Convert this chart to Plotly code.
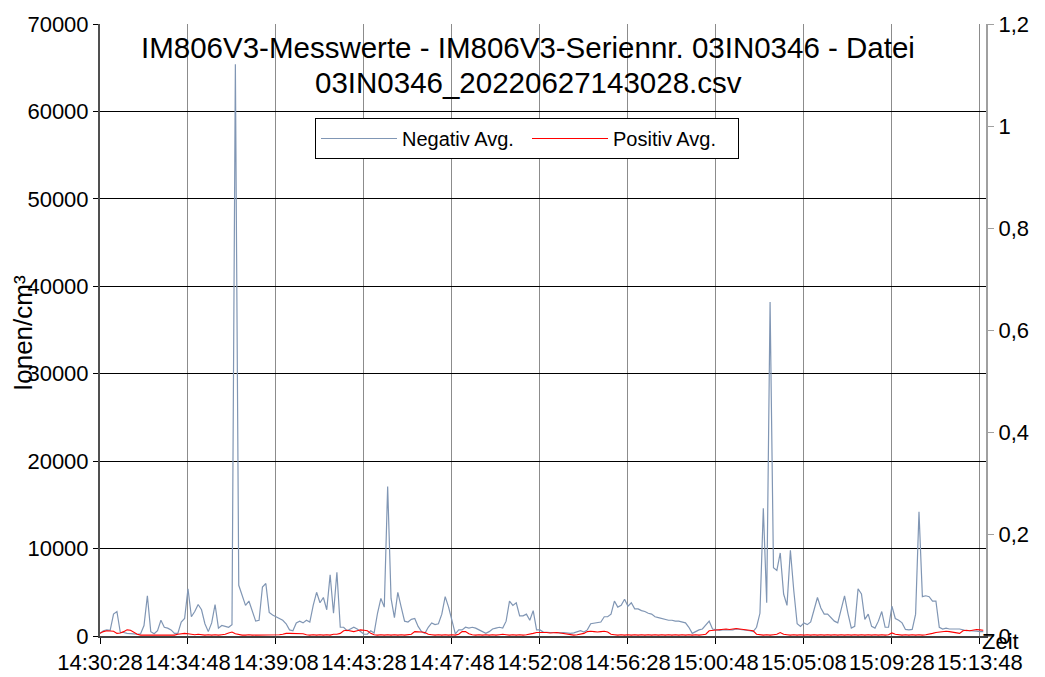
import pandas as pd
import plotly.graph_objects as go

# IM806V3 Messwerte, 10 s Raster ab 14:30:28
start = "2022-06-27 14:30:28"

negativ = [
    300, 600, 700, 650, 2500, 2800, 400, 400, 300, 300,
    250, 200, 250, 1200, 4600, 500, 250, 600, 1800, 1000,
    900, 700, 300, 300, 1600, 2000, 5400, 2200, 2800, 3600,
    3000, 1400, 500, 1500, 3600, 900, 1200, 1100, 1000, 1300,
    65400, 5800, 4500, 3500, 4000, 2900, 1700, 1800, 5600, 6000,
    2700, 2400, 2200, 2000, 1800, 1400, 700, 600, 1500, 1700,
    1500, 1800, 1600, 3500, 5000, 3800, 4400, 3000, 7000, 2600,
    7300, 1000, 1000, 600, 800, 1000, 800, 500, 200, 200,
    600, 350, 2600, 4300, 3300, 17100, 4300, 2100, 5000, 3300,
    1700, 1600, 1900, 2000, 1100, 500, 300, 1000, 1500, 1300,
    1400, 2500, 4500, 3300, 1800, 250, 700, 700, 1000, 900,
    1000, 900, 700, 450, 300, 500, 800, 900, 1000, 900,
    1700, 4000, 3500, 3800, 2300, 2300, 2500, 1800, 2900, 700,
    700, 450, 400, 400, 400, 350, 350, 400, 350, 300,
    350, 500, 600, 450, 700, 1400, 1450, 1500, 1600, 2200,
    2200, 2500, 4000, 3300, 3500, 4200, 3400, 3800, 3100, 3100,
    2900, 2800, 2600, 2500, 2200, 2100, 2000, 1900, 1800, 1800,
    1700, 1700, 1600, 1500, 1000, 300, 500, 700, 800, 1200,
    1700, 800, 700, 650, 700, 700, 650, 700, 800, 750,
    700, 700, 600, 500, 1000, 2600, 14600, 3800, 38200, 7800,
    7500, 9500, 4800, 3500, 9800, 5200, 1400, 1100, 1500, 1300,
    1600, 3000, 4400, 3200, 2500, 2500, 2100, 1700, 1500, 3000,
    4600, 2600, 900, 1100, 5400, 4800, 1900, 2500, 1100, 900,
    1700, 2800, 1000, 1000, 3400, 2000, 1800, 1500, 750, 700,
    750, 2500, 14200, 4500, 4600, 4500, 4000, 4000, 1000, 800,
    900, 800, 800, 800, 800, 700, 600, 600, 600, 550,
    500, 500,
]

positiv = [
    300, 500, 600, 600, 550, 300, 350, 500, 700, 650,
    400, 200, 100, 100, 150, 100, 100, 150, 100, 150,
    100, 150, 100, 200, 250, 300, 250, 200, 150, 200,
    150, 100, 150, 100, 150, 100, 150, 200, 350, 450,
    250, 150, 100, 100, 150, 100, 100, 150, 100, 150,
    100, 150, 100, 150, 200, 300, 300, 300, 300, 300,
    250, 150, 100, 150, 100, 150, 100, 150, 100, 200,
    200, 300, 600, 650, 600, 500, 600, 700, 650, 600,
    300, 150, 100, 150, 100, 150, 100, 150, 100, 150,
    100, 150, 200, 500, 500, 450, 400, 200, 150, 100,
    150, 100, 150, 100, 150, 100, 200, 500, 500, 250,
    150, 100, 150, 100, 150, 100, 150, 100, 150, 200,
    150, 100, 150, 100, 150, 100, 150, 200, 300, 400,
    400, 450, 400, 350, 400, 400, 350, 300, 200, 150,
    100, 150, 200, 300, 500, 550, 500, 450, 500, 550,
    450, 200, 150, 100, 150, 100, 150, 100, 150, 100,
    150, 100, 150, 100, 150, 100, 150, 100, 150, 100,
    150, 100, 150, 100, 150, 100, 150, 100, 150, 200,
    600, 650, 700, 750, 800, 800, 750, 800, 850, 800,
    750, 700, 650, 600, 200, 150, 100, 150, 100, 150,
    200, 400, 200, 150, 100, 150, 100, 150, 100, 150,
    100, 150, 100, 150, 100, 150, 100, 150, 100, 150,
    100, 150, 100, 150, 100, 150, 100, 150, 100, 150,
    100, 150, 100, 150, 350, 200, 150, 100, 150, 100,
    150, 100, 150, 100, 150, 200, 300, 400, 450, 500,
    550, 500, 450, 350, 300, 600, 650, 600, 700, 750,
    700, 650,
]

left_ticks = [0, 10000, 20000, 30000, 40000, 50000, 60000, 70000]
left_text = ["0", "10000", "20000", "30000", "40000", "50000", "60000", "70000"]
right_ticks = [0, 0.2, 0.4, 0.6, 0.8, 1.0, 1.2]
right_text = ["0", "0,2", "0,4", "0,6", "0,8", "1", "1,2"]

title_lines = ["IM806V3-Messwerte - IM806V3-Seriennr. 03IN0346 - Datei",
               "03IN0346_20220627143028.csv"]

zeit = pd.date_range(start, periods=len(negativ), freq="10s")

fig = go.Figure()
fig.add_trace(go.Scatter(x=zeit, y=negativ, mode="lines", name="Negativ Avg.",
                         line=dict(color="#8096b4", width=1.2)))
fig.add_trace(go.Scatter(x=zeit, y=positiv, mode="lines", name="Positiv Avg.",
                         line=dict(color="#ff0000", width=1.1)))
fig.add_trace(go.Scatter(x=[], y=[], yaxis="y2", showlegend=False, hoverinfo="skip"))

# the page body adds 8px offset, so the plot box is placed 8px up/left
fig.update_layout(
    width=1045, height=677,
    margin=dict(l=92, r=67, t=16, b=49),
    paper_bgcolor="white", plot_bgcolor="white",
    font=dict(family="Liberation Sans, Arial", size=22, color="black"),
    legend=dict(orientation="h", x=(315 - 100) / 886, y=(636 - 118) / 612,
                xanchor="left", yanchor="top", bgcolor="white",
                bordercolor="black", borderwidth=1, font=dict(size=20),
                itemwidth=76, entrywidth=120),
    xaxis=dict(
        range=["2022-06-27 14:30:28", "2022-06-27 15:14:06"],
        tick0=start, dtick=260000, tickformat="%H:%M:%S",
        showgrid=True, gridcolor="#8c8c8c", gridwidth=1,
        showline=True, linecolor="#404040", linewidth=2,
        ticks="outside", ticklen=6, tickcolor="black",
        zeroline=False, automargin=False,
    ),
    yaxis=dict(
        range=[0, 70000], tickvals=left_ticks, ticktext=left_text,
        showgrid=True, gridcolor="black", gridwidth=1,
        showline=True, linecolor="#505050", linewidth=2,
        ticks="outside", ticklen=5, tickcolor="black",
        zeroline=False, automargin=False,
    ),
    yaxis2=dict(
        overlaying="y", side="right", range=[0, 1.2],
        tickvals=right_ticks, ticktext=right_text,
        showgrid=False, showline=True, linecolor="#a0a0a0", linewidth=2,
        ticks="outside", ticklen=6, tickcolor="#a0a0a0",
        zeroline=False, automargin=False,
    ),
)

for line, ypix in zip(title_lines, [48, 82]):
    fig.add_annotation(text=line, showarrow=False, xref="paper", yref="paper",
                       x=(528 - 100) / 886, y=(636 - ypix) / 612,
                       xanchor="center", yanchor="middle", font=dict(size=29.5))

fig.add_annotation(text="Ionen/cm³", textangle=-90, showarrow=False,
                   xref="paper", yref="paper", x=(23 - 100) / 886, y=(636 - 333) / 612,
                   xanchor="center", yanchor="middle", font=dict(size=26))
fig.add_annotation(text="Zeit", showarrow=False,
                   xref="paper", yref="paper", x=(1000 - 100) / 886, y=(636 - 641) / 612,
                   xanchor="center", yanchor="middle", font=dict(size=22))

fig.write_html("out.html")
